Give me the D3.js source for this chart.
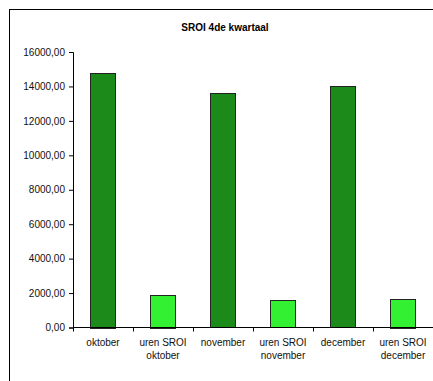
<!DOCTYPE html>
<meta charset="utf-8">
<script src="https://d3js.org/d3.v7.min.js"></script>
<style>
  body { margin: 0; background: #fff; }
  svg { display: block; font-family: "Liberation Sans", Arial, sans-serif; }
</style>
<div id="chart"></div>
<script>
// data
var categories = ["oktober", "uren SROI oktober", "november", "uren SROI november", "december", "uren SROI december"];
var values = [14800, 1900, 13600, 1580, 14000, 1680];
var yTicks = [0, 2000, 4000, 6000, 8000, 10000, 12000, 14000, 16000];

var W = 433, H = 381;
var margin = {top: 52, right: 0, bottom: 53.5, left: 73},
    width = W - margin.left - margin.right,
    height = H - margin.top - margin.bottom;

var svg = d3.select("#chart").append("svg")
    .attr("width", W)
    .attr("height", H);

// outer frame
svg.append("rect")
    .attr("x", 9.5).attr("y", 9.5)
    .attr("width", 440).attr("height", 400)
    .attr("fill", "none")
    .attr("stroke", "#000")
    .attr("stroke-width", 1);

// title
svg.append("text")
    .attr("x", 225).attr("y", 31)
    .attr("text-anchor", "middle")
    .style("font-size", "10px")
    .style("font-weight", "bold")
    .text("SROI 4de kwartaal");

var g = svg.append("g")
    .attr("transform", "translate(" + margin.left + "," + margin.top + ")");

var x = d3.scaleBand()
    .domain(categories)
    .range([0, width])
    .paddingInner(0.58)
    .paddingOuter(0.29);

var y = d3.scaleLinear()
    .domain([0, 16000])
    .range([height, 0]);

// bars
g.selectAll("rect.bar")
    .data(categories)
    .enter().append("rect")
    .attr("class", "bar")
    .attr("x", function(d) { return Math.round(x(d)) + 0.5; })
    .attr("y", function(d, i) { return Math.round(y(values[i])) + 0.5; })
    .attr("width", Math.round(x.bandwidth()))
    .attr("height", function(d, i) { return Math.round(height - y(values[i])); })
    .attr("fill", function(d, i) { return i % 2 == 0 ? "#1b8a1b" : "#33f033"; })
    .attr("stroke", "#222")
    .attr("stroke-width", 1);

// y axis
var yAxis = g.append("g")
    .call(d3.axisLeft(y)
      .tickValues(yTicks)
      .tickSize(4)
      .tickPadding(4)
      .tickFormat(function(d) { return d3.format(".2f")(d).replace(".", ","); }));
yAxis.selectAll("text").style("font-size", "10px").style("fill", "#111");

// x axis: ticks between categories
var step = width / categories.length;
var xAxis = g.append("g")
    .attr("transform", "translate(0," + height + ")");
xAxis.append("line")
    .attr("x1", 0).attr("x2", width)
    .attr("stroke", "#000");
xAxis.selectAll("line.tick")
    .data(d3.range(categories.length))
    .enter().append("line")
    .attr("x1", function(i) { return Math.round(i * step) + 0.5; })
    .attr("x2", function(i) { return Math.round(i * step) + 0.5; })
    .attr("y1", 0).attr("y2", 4)
    .attr("stroke", "#000");

xAxis.selectAll("text")
    .data(categories)
    .enter().append("text")
    .attr("text-anchor", "middle")
    .attr("transform", function(d) { return "translate(" + (x(d) + x.bandwidth() / 2) + ",18)"; })
    .style("font-size", "10px")
    .style("fill", "#111")
    .each(function(d) {
      var lines = d.indexOf("uren SROI") == 0 ? ["uren SROI", d.slice(10)] : [d];
      var t = d3.select(this);
      lines.forEach(function(l, k) {
        t.append("tspan").attr("x", 0).attr("dy", k == 0 ? 0 : 13).text(l);
      });
    });
</script>
